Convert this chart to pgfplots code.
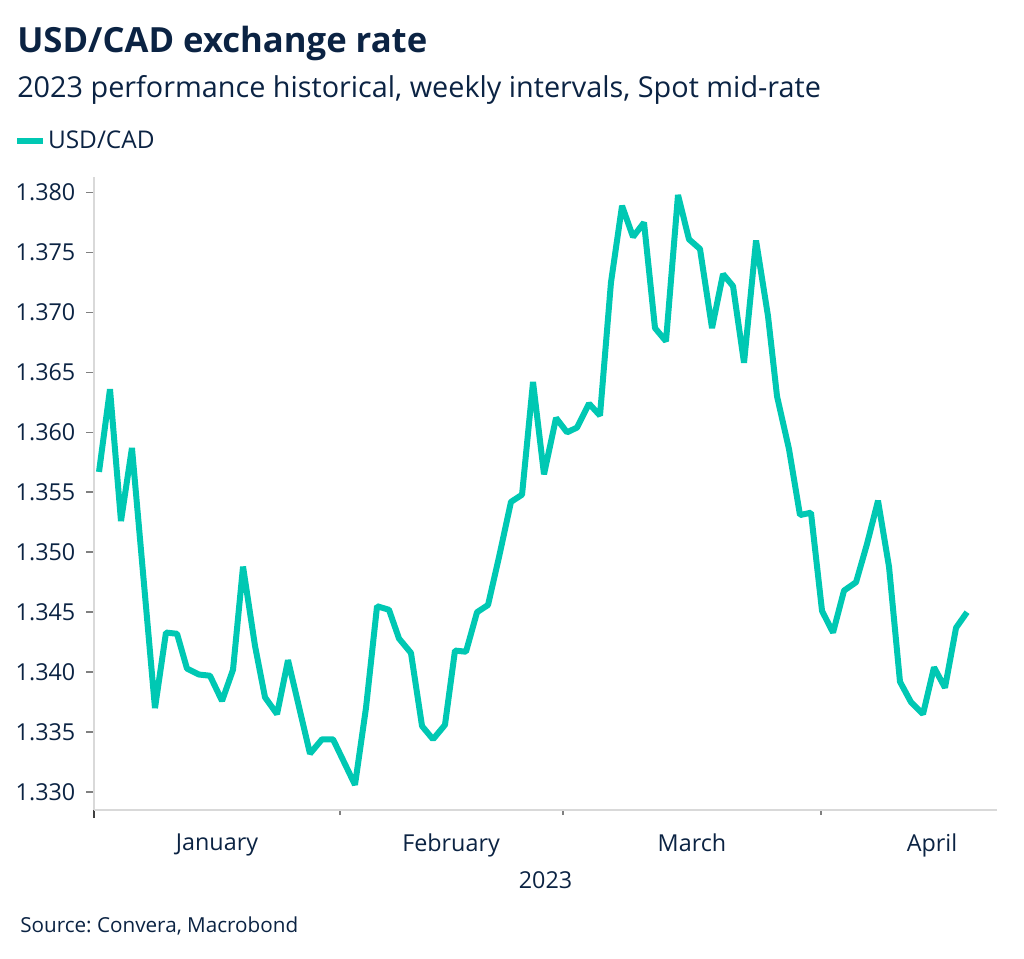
\documentclass[border=0pt]{standalone}
\usepackage{pgfplots}
\pgfplotsset{compat=1.18}
\usepackage{fontspec}
\setmainfont{Open Sans}
\frenchspacing
\definecolor{navy}{HTML}{0B2343}
\definecolor{lineteal}{HTML}{00C8B3}
\definecolor{axgray}{HTML}{D9D9D9}
\definecolor{tickgray}{HTML}{808080}
\pgfplotstableread{
x y
0.62 1.3567
1.98 1.3636
3.34 1.3526
4.70 1.3587
7.55 1.3370
8.91 1.3433
10.28 1.3432
11.51 1.3403
13.00 1.3398
14.36 1.3397
15.85 1.3376
17.21 1.3402
18.45 1.3488
19.93 1.3422
21.17 1.3379
22.66 1.3365
24.02 1.3410
26.74 1.3332
28.23 1.3344
29.59 1.3344
32.31 1.3306
33.67 1.3370
35.04 1.3455
36.52 1.3452
37.76 1.3428
39.24 1.3416
40.61 1.3355
41.97 1.3344
43.45 1.3356
44.69 1.3418
46.05 1.3417
47.42 1.3450
48.78 1.3456
50.14 1.3496
51.62 1.3542
52.99 1.3548
54.35 1.3642
55.71 1.3565
57.20 1.3612
58.56 1.3600
59.80 1.3604
61.28 1.3624
62.64 1.3614
64.00 1.3725
65.37 1.3789
66.73 1.3763
68.09 1.3775
69.45 1.3687
70.81 1.3676
72.30 1.3798
73.66 1.3761
75.02 1.3753
76.51 1.3687
77.87 1.3732
79.11 1.3722
80.47 1.3658
81.96 1.3760
83.44 1.3697
84.56 1.3630
86.04 1.3586
87.40 1.3531
88.76 1.3533
90.13 1.3451
91.49 1.3433
92.85 1.3468
94.34 1.3475
95.70 1.3507
97.06 1.3543
98.42 1.3488
99.78 1.3392
101.14 1.3375
102.63 1.3365
103.99 1.3404
105.35 1.3387
106.72 1.3437
108.08 1.3450
}\usdcad
\begin{document}
\begin{tikzpicture}
\path[use as bounding box] (0,0) rectangle (768pt,718.5pt);
\node[anchor=base west, inner sep=0pt, text=navy, font=\fontsize{26pt}{30pt}\selectfont\bfseries] at (12.75pt,678.75pt) {USD/CAD exchange rate};
\node[anchor=base west, inner sep=0pt, text=navy, font=\fontsize{21.6pt}{26pt}\selectfont] at (12.75pt,645pt) {2023 performance historical, weekly intervals, Spot mid-rate};
\node[anchor=base west, inner sep=0pt, text=navy, font=\fontsize{15.5pt}{18pt}\selectfont] at (15pt,19.5pt) {Source: Convera, Macrobond};
\begin{axis}[
  at={(70.5pt,111pt)}, anchor=south west,
  scale only axis, width=677.25pt, height=474.75pt,
  xmin=0, xmax=111.79, ymin=1.3285, ymax=1.3813,
  axis x line*=bottom, axis y line*=left,
  axis line style={axgray, line width=1.5pt},
  tick align=outside,
  major tick length=6pt, minor tick length=3.75pt,
  ytick={1.330,1.335,1.340,1.345,1.350,1.355,1.360,1.365,1.370,1.375,1.380},
  y tick style={tickgray, line width=1.2pt},
  yticklabel style={text=navy, font=\fontsize{17.5pt}{21pt}\selectfont, xshift=-4.5pt},
  /pgf/number format/.cd, fixed, fixed zerofill, precision=3, assume math mode=true,
  /pgfplots/.cd,
  xtick={0}, xticklabels={},
  minor xtick={30.45,58.06,90},
  every major x tick/.append style={black!75, line width=1.2pt},
  every minor x tick/.append style={tickgray, line width=1pt},
  extra x ticks={15.23,44.2,74.03,103.74},
  extra x tick labels={January,February,March,April},
  extra x tick style={major tick length=0pt},
  xticklabel style={text=navy, font=\fontsize{17.5pt}{21pt}\selectfont, yshift=-14pt},
  xlabel={2023},
  xlabel style={text=navy, font=\fontsize{17.5pt}{21pt}\selectfont, yshift=1.5pt},
  legend style={at={(axis description cs:-0.0885,1.0569)}, anchor=west, draw=none, fill=none, inner sep=0pt, outer sep=0pt, text=navy, font=\fontsize{18.3pt}{22pt}\selectfont, nodes={inner sep=0pt}},
  legend image code/.code={\draw[#1, line width=4.5pt] (0pt,0pt) -- (19.5pt,0pt); \path (21pt,0pt);},
]
\addplot[lineteal, line width=4.5pt, line join=bevel] table[x=x,y=y] {\usdcad};
\addlegendentry{USD/CAD}
\end{axis}
\end{tikzpicture}
\end{document}
